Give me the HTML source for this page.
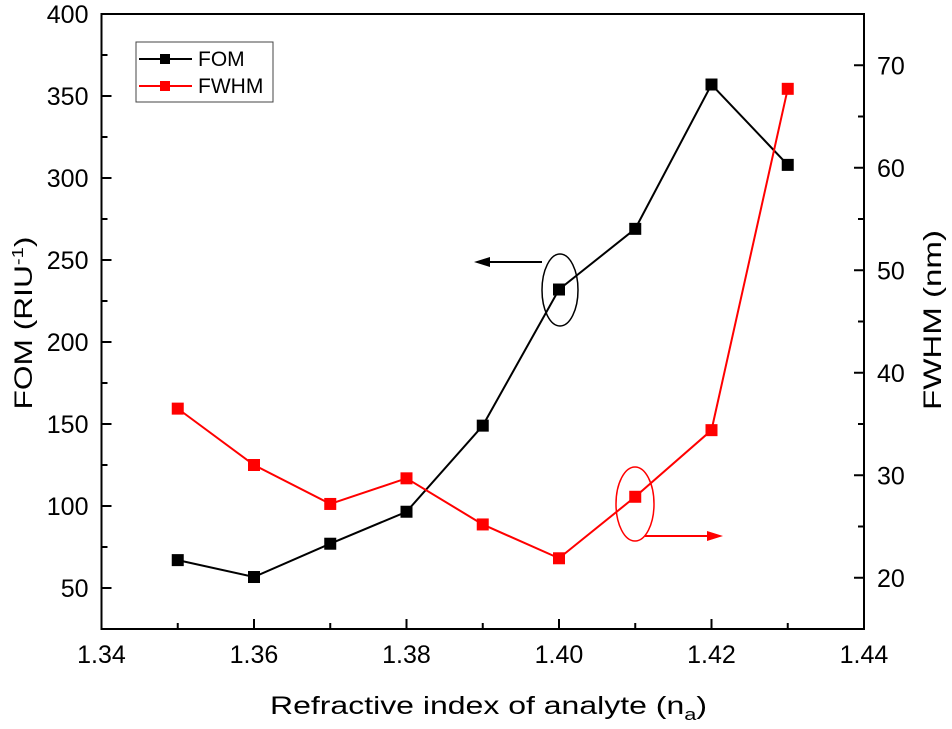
<!DOCTYPE html>
<html><head><meta charset="utf-8"><style>
html,body{margin:0;padding:0;background:#fff;}
svg text{font-family:"Liberation Sans",Arial,sans-serif;fill:#000;}
</style></head><body>
<svg id="chart" width="952" height="724" xmlns="http://www.w3.org/2000/svg">
<g id="axes"></g>
<g id="series"></g>
<g>
<ellipse cx="560" cy="290" rx="18" ry="36" fill="none" stroke="#000" stroke-width="1.5"/>
<line x1="542" y1="262" x2="486" y2="262" stroke="#000" stroke-width="2"/>
<polygon points="474,262 490,257 490,267" fill="#000"/>
</g>
<g>
<ellipse cx="635" cy="504" rx="19" ry="37" fill="none" stroke="#f00" stroke-width="1.5"/>
<line x1="645" y1="536" x2="710" y2="536" stroke="#f00" stroke-width="2"/>
<polygon points="723,536 707,531 707,541" fill="#f00"/>
</g>
<g>
<rect x="136" y="42" width="137" height="60" fill="#fff" stroke="#444" stroke-width="1"/>
<line x1="139" y1="59" x2="192" y2="59" stroke="#000" stroke-width="2"/>
<rect x="160" y="54" width="10" height="10" fill="#000"/>
<text x="198" y="66" font-size="21">FOM</text>
<line x1="139" y1="86" x2="192" y2="86" stroke="#f00" stroke-width="2"/>
<rect x="160" y="81" width="10" height="10" fill="#f00"/>
<text x="198" y="93" font-size="21">FWHM</text>
</g>
<text x="270" y="714" font-size="25" textLength="437" lengthAdjust="spacingAndGlyphs">Refractive index of analyte (n<tspan font-size="17" dy="6">a</tspan><tspan dy="-6">)</tspan></text>
<text transform="translate(32,323) rotate(-90)" font-size="25" text-anchor="middle" textLength="173" lengthAdjust="spacingAndGlyphs">FOM (RIU<tspan font-size="16" dy="-9">-1</tspan><tspan dy="9">)</tspan></text>
<text transform="translate(941,320) rotate(-90)" font-size="25" text-anchor="middle" textLength="180" lengthAdjust="spacingAndGlyphs">FWHM (nm)</text>
</svg>
<script>
const categories=[1.35,1.36,1.37,1.38,1.39,1.40,1.41,1.42,1.43];
const fomValues=[67,56.7,77,96.5,149,232,269,357,308];
const fwhmValues=[36.5,31.0,27.2,29.7,25.2,21.9,27.9,34.4,67.7];
const xTicks=[1.34,1.36,1.38,1.40,1.42,1.44];
const xTickLabels=["1.34","1.36","1.38","1.40","1.42","1.44"];
const leftTicks=[50,100,150,200,250,300,350,400];
const rightTicks=[20,30,40,50,60,70];

const L=101.5,R=864,T=14,B=629;
const x=v=>L+(v-1.34)/(0.10)*(R-L);
const yL=v=>B-(v-25)/(375)*(B-T);
const yR=v=>B-(v-15)/(60)*(B-T);
const NS="http://www.w3.org/2000/svg";
function mk(tag,attrs,parent){const e=document.createElementNS(NS,tag);for(const k in attrs)e.setAttribute(k,attrs[k]);parent.appendChild(e);return e;}
const ax=document.getElementById('axes'),se=document.getElementById('series');
const frame=mk('rect',{x:L,y:T,width:R-L,height:B-T,fill:'none',stroke:'#000','stroke-width':2},ax);


xTicks.forEach((v,i)=>{
  mk('line',{x1:x(v),y1:B,x2:x(v),y2:B-10,stroke:'#000','stroke-width':2},ax);
  const t=mk('text',{x:x(v),y:B+34,'font-size':25,'text-anchor':'middle'},ax);t.textContent=xTickLabels[i];
  
  
  if(i<xTicks.length-1){const m=x(v+0.01);mk('line',{x1:m,y1:B,x2:m,y2:B-6,stroke:'#000','stroke-width':2},ax);}
});
leftTicks.forEach(v=>{
  mk('line',{x1:L,y1:yL(v),x2:L+10,y2:yL(v),stroke:'#000','stroke-width':2},ax);
  if(v-25>25)mk('line',{x1:L,y1:yL(v-25),x2:L+6,y2:yL(v-25),stroke:'#000','stroke-width':2},ax);
  const t=mk('text',{x:L-13,y:yL(v)+9,'font-size':25,'text-anchor':'end'},ax);t.textContent=v;
  
  
});
rightTicks.forEach(v=>{
  mk('line',{x1:R,y1:yR(v),x2:R-10,y2:yR(v),stroke:'#000','stroke-width':2},ax);
  mk('line',{x1:R,y1:yR(v+5),x2:R-6,y2:yR(v+5),stroke:'#000','stroke-width':2},ax);
  const t=mk('text',{x:R+13,y:yR(v)+9,'font-size':25},ax);t.textContent=v;
  
  
});
function draw(vals,yf,col,name){
  const pl=mk('polyline',{points:vals.map((v,i)=>x(categories[i])+','+yf(v)).join(' '),fill:'none',stroke:col,'stroke-width':2},se);
  
  
  vals.forEach((v,i)=>{
    const r=mk('rect',{x:x(categories[i])-6,y:yf(v)-6,width:12,height:12,fill:col},se);
    
    
  });
}
draw(fomValues,yL,'#000','fom');
draw(fwhmValues,yR,'#f00','fwhm');
</script>
</body></html>
